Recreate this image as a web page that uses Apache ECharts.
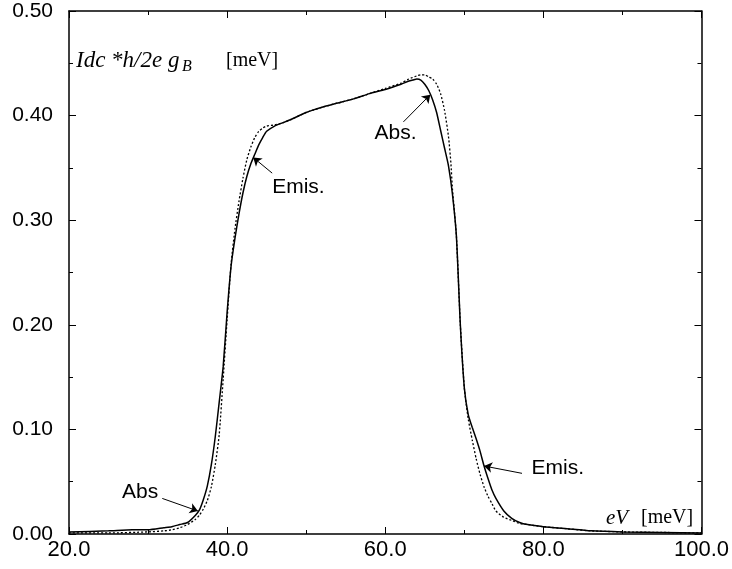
<!DOCTYPE html>
<html>
<head>
    <meta charset="utf-8"/>
    <style>
        html, body {
            height: 100%;
            margin: 0;
            padding: 0;
            background: #fff;
        }

        .container {
            width: 732px;
            height: 569px;
        }
    </style>
</head>

<body>
<div id="main" class="container"></div>
<script src="https://cdn.jsdelivr.net/npm/echarts@6/dist/echarts.min.js"></script>
<script type="text/javascript">
// solid curve
var xSolid = [20, 25, 28, 30, 32, 33, 34, 35, 36, 36.5, 37, 37.5, 38, 38.5, 39, 39.5, 40, 40.5, 41, 41.5,
    42, 42.5, 43, 43.5, 44, 44.5, 45, 46, 47, 48, 50, 52, 54, 56, 58, 60, 62, 63, 63.5, 64,
    64.5, 65, 65.5, 66, 66.5, 67, 67.5, 68, 68.5, 69, 69.5, 70, 70.5, 71, 71.5, 72, 72.5, 73, 73.5, 74,
    75, 76, 77, 78, 80, 83, 86, 90, 95, 100];
var ySolid = [0.002, 0.003, 0.004, 0.004, 0.006, 0.007, 0.009, 0.011, 0.018, 0.023, 0.033, 0.046, 0.066, 0.093, 0.126, 0.160, 0.212, 0.256, 0.283, 0.306,
    0.326, 0.342, 0.354, 0.363, 0.372, 0.379, 0.385, 0.390, 0.393, 0.396, 0.403, 0.408, 0.412, 0.416, 0.421, 0.425, 0.430, 0.433, 0.434, 0.435,
    0.434, 0.430, 0.424, 0.415, 0.403, 0.386, 0.369, 0.352, 0.325, 0.285, 0.200, 0.140, 0.114, 0.102, 0.091, 0.079, 0.065, 0.053, 0.042, 0.034,
    0.022, 0.015, 0.011, 0.009, 0.007, 0.005, 0.003, 0.002, 0.0015, 0.001];

// dotted curve
var xDotted = [20, 25, 30, 32, 33, 34, 35, 36, 36.5, 37, 37.5, 38, 38.5, 39, 39.5, 40, 40.5, 41, 41.5, 42,
    42.5, 43, 43.5, 44, 44.5, 45, 46, 47, 48, 50, 52, 54, 56, 58, 60, 62, 63, 64, 64.5, 65,
    65.5, 66, 66.5, 67, 67.5, 68, 68.3, 68.5, 69, 69.5, 70, 70.5, 71, 71.5, 72, 72.5, 73, 73.5, 74, 75,
    76, 77, 78, 80, 83, 86, 90, 95, 100];
var yDotted = [0.001, 0.001, 0.002, 0.003, 0.004, 0.006, 0.009, 0.014, 0.018, 0.024, 0.032, 0.045, 0.066, 0.095, 0.148, 0.205, 0.258, 0.292, 0.318, 0.340,
    0.358, 0.370, 0.379, 0.385, 0.388, 0.390, 0.391, 0.393, 0.396, 0.403, 0.408, 0.412, 0.416, 0.421, 0.426, 0.431, 0.435, 0.438, 0.439, 0.439,
    0.437, 0.435, 0.430, 0.421, 0.405, 0.380, 0.355, 0.330, 0.285, 0.200, 0.140, 0.110, 0.090, 0.072, 0.057, 0.045, 0.036, 0.029, 0.022, 0.016,
    0.013, 0.010, 0.009, 0.007, 0.005, 0.003, 0.002, 0.0015, 0.001];

// annotations (data coordinates)
var annoText = ['Emis.', 'Abs.', 'Abs', 'Emis.'];
var annoTextX = [45.7, 61.3, 29.0, 78.5];
var annoTextY = [0.332, 0.383, 0.040, 0.063];
var annoAlign = ['left', 'center', 'center', 'left'];
var arrowFrom = [[45.7, 0.345], [62.3, 0.394], [31.8, 0.034], [77.3, 0.058]];
var arrowTo = [[43.3, 0.360], [65.7, 0.420], [36.3, 0.022], [72.5, 0.065]];

var xTicks = [20, 40, 60, 80, 100];
var yTicks = [0, 0.1, 0.2, 0.3, 0.4, 0.5];

function zip(xs, ys) {
    var out = [];
    for (var i = 0; i < xs.length; i++) {
        out.push([xs[i], ys[i]]);
    }
    return out;
}

var myChart = echarts.init(document.getElementById('main'));
var labelFont = '"Liberation Sans", Arial, sans-serif';
var serifFont = '"Liberation Serif", "Times New Roman", serif';

function makeXAxis(pos, showLabel) {
    return {
        type: 'value',
        position: pos,
        min: xTicks[0],
        max: xTicks[xTicks.length - 1],
        interval: 20,
        axisLine: {show: true, onZero: false, lineStyle: {color: '#000', width: 1.5}},
        axisTick: {show: true, inside: true, length: 7, lineStyle: {color: '#000', width: 1}},
        minorTick: {show: true, splitNumber: 2, length: 4, lineStyle: {color: '#000', width: 1}},
        splitLine: {show: false},
        axisLabel: {
            show: showLabel,
            margin: 5,
            color: '#000',
            fontSize: 22,
            fontFamily: labelFont,
            formatter: function (v) { return v.toFixed(1); }
        }
    };
}

function makeYAxis(pos, showLabel) {
    return {
        type: 'value',
        position: pos,
        min: yTicks[0],
        max: yTicks[yTicks.length - 1],
        interval: 0.1,
        axisLine: {show: true, onZero: false, lineStyle: {color: '#000', width: 1.5}},
        axisTick: {show: true, inside: true, length: 7, lineStyle: {color: '#000', width: 1}},
        minorTick: {show: true, splitNumber: 2, length: 4, lineStyle: {color: '#000', width: 1}},
        splitLine: {show: false},
        axisLabel: {
            show: showLabel,
            margin: 16,
            color: '#000',
            fontSize: 21,
            fontFamily: labelFont,
            formatter: function (v) { return v.toFixed(2); }
        }
    };
}

var arrows = [];
for (var i = 0; i < arrowFrom.length; i++) {
    arrows.push([{coord: arrowFrom[i]}, {coord: arrowTo[i]}]);
}

var option = {
    animation: false,
    backgroundColor: '#fff',
    grid: {left: 69, top: 11, right: 29, bottom: 35, containLabel: false},
    xAxis: [makeXAxis('bottom', true), makeXAxis('top', false)],
    yAxis: [makeYAxis('left', true), makeYAxis('right', false)],
    series: [
        {
            name: 'solid',
            type: 'line',
            data: zip(xSolid, ySolid),
            showSymbol: false,
            smooth: 0.2,
            lineStyle: {color: '#000', width: 1.5, type: 'solid'},
            markLine: {
                silent: true,
                symbol: ['none', 'arrow'],
                symbolSize: 8,
                label: {show: false},
                lineStyle: {color: '#000', width: 1, type: 'solid'},
                data: arrows
            },
            z: 3
        },
        {
            name: 'dotted',
            type: 'line',
            data: zip(xDotted, yDotted),
            showSymbol: false,
            smooth: 0.2,
            lineStyle: {color: '#000', width: 1.3, type: [2, 2]},
            z: 2
        }
    ]
};

myChart.setOption(option);

// texts: axis titles and annotation labels
var graphics = [
    {type: 'text', x: 76, y: 61, style: {text: 'Idc *h/2e g', font: 'italic 23px ' + serifFont, fill: '#000', textVerticalAlign: 'middle'}},
    {type: 'text', x: 182, y: 67, style: {text: 'B', font: 'italic 16px ' + serifFont, fill: '#000', textVerticalAlign: 'middle'}},
    {type: 'text', x: 226, y: 61, style: {text: '[meV]', font: '20px ' + serifFont, fill: '#000', textVerticalAlign: 'middle'}},
    {type: 'text', x: 606, y: 518, style: {text: 'eV', font: 'italic 21px ' + serifFont, fill: '#000', textVerticalAlign: 'middle'}},
    {type: 'text', x: 641, y: 518, style: {text: '[meV]', font: '20px ' + serifFont, fill: '#000', textVerticalAlign: 'middle'}}
];
for (var k = 0; k < annoText.length; k++) {
    var p = myChart.convertToPixel({gridIndex: 0}, [annoTextX[k], annoTextY[k]]);
    graphics.push({
        type: 'text',
        x: p[0],
        y: p[1],
        style: {text: annoText[k], font: '21px ' + labelFont, fill: '#000', textAlign: annoAlign[k], textVerticalAlign: 'middle'}
    });
}
myChart.setOption({graphic: graphics});
</script>
</body>
</html>
